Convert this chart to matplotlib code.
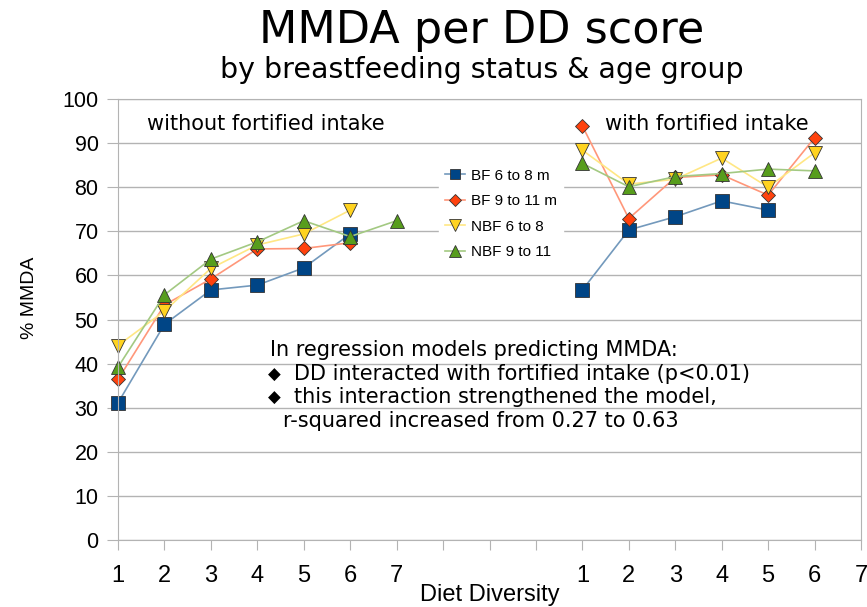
import matplotlib.pyplot as plt
from matplotlib.colors import to_rgb
from matplotlib.lines import Line2D

# ── Data ──────────────────────────────────────────────────────────────────────
DD_WITHOUT = [1, 2, 3, 4, 5, 6, 7]
DD_WITH = [1, 2, 3, 4, 5, 6, 7]
GAP = 3                                     # empty category slots between panels

BF_6_8_WITHOUT   = [31.1, 48.9, 56.7, 57.8, 61.7, 69.4]
BF_9_11_WITHOUT  = [36.4, 53.3, 59.2, 66.0, 66.1, 67.4]
NBF_6_8_WITHOUT  = [44.1, 51.9, 61.6, 66.9, 69.4, 74.8]
NBF_9_11_WITHOUT = [39.2, 55.6, 63.7, 67.6, 72.4, 68.8, 72.4]

BF_6_8_WITH   = [56.7, 70.3, 73.3, 76.9, 74.8]
BF_9_11_WITH  = [93.9, 72.9, 82.2, 82.8, 78.2, 91.2]
NBF_6_8_WITH  = [88.4, 80.7, 81.8, 86.6, 80.0, 87.8]
NBF_9_11_WITH = [85.4, 80.1, 82.4, 83.1, 84.1, 83.7]

SERIES = [
    ("BF 6 to 8 m",  BF_6_8_WITHOUT,   BF_6_8_WITH,   "s", "#004586", 9.5),
    ("BF 9 to 11 m", BF_9_11_WITHOUT,  BF_9_11_WITH,  "D", "#ff420e", 7.5),
    ("NBF 6 to 8",   NBF_6_8_WITHOUT,  NBF_6_8_WITH,  "v", "#ffd320", 10.5),
    ("NBF 9 to 11",  NBF_9_11_WITHOUT, NBF_9_11_WITH, "^", "#579d1c", 10.5),
]

NOTES = [
    "In regression models predicting MMDA:",
    "DD interacted with fortified intake (p<0.01)",
    "this interaction strengthened the model,",
    "r-squared increased from 0.27 to 0.63",
]

GRID = "#b3b3b3"
NARROW = ["Liberation Sans", "DejaVu Sans"]   # axis/tick text
WIDE = ["DejaVu Sans"]                         # titles and notes


def lighten(c, amount=0.45):
    r, g, b = to_rgb(c)
    return (r + (1 - r) * amount, g + (1 - g) * amount, b + (1 - b) * amount)


# ── Plot ──────────────────────────────────────────────────────────────────────
fig = plt.figure(figsize=(8.67, 6.07), dpi=100)
ax = fig.add_axes([118 / 867, 67 / 607, 743 / 867, 441 / 607])

offset_with = len(DD_WITHOUT) + GAP
handles = []
for label, y_wo, y_w, mk, col, ms in SERIES:
    x_wo = [d - 1 for d in DD_WITHOUT[:len(y_wo)]]
    x_w = [d - 1 + offset_with for d in DD_WITH[:len(y_w)]]
    style = dict(marker=mk, color=lighten(col), markersize=ms,
                 markerfacecolor=col, markeredgecolor="#333333",
                 markeredgewidth=0.6, lw=1.2, clip_on=False)
    ax.plot(x_wo, y_wo, **style)
    ax.plot(x_w, y_w, **style)
    handles.append(Line2D([], [], label=label, **{**style, "markersize": ms * 0.8}))

n_slots = len(DD_WITHOUT) + GAP + len(DD_WITH)
tick_labels = [str(d) for d in DD_WITHOUT] + [""] * GAP + [str(d) for d in DD_WITH]
ax.set_xlim(0, n_slots - 1)
ax.set_xticks(range(n_slots), tick_labels)
ax.set_ylim(0, 100)
ax.set_yticks(range(0, 101, 10))
ax.tick_params(axis="x", length=7, color=GRID, labelsize=17, pad=11)
ax.tick_params(axis="y", length=8, color=GRID, labelsize=15.5, pad=6)
for t in ax.get_xticklabels() + ax.get_yticklabels():
    t.set_family(NARROW)
ax.grid(axis="y", color=GRID, lw=1)
ax.set_axisbelow(True)
for s in ax.spines.values():
    s.set_color(GRID)

ax.set_xlabel("Diet Diversity", fontsize=17, family=NARROW, labelpad=-2)
fig.text(30 / 867, 1 - 298 / 607, "% MMDA", rotation=90, fontsize=14,
         family=NARROW, ha="center", va="center")

fig.text(482 / 867, 1 - 43 / 607, "MMDA per DD score", fontsize=32, family=WIDE,
         ha="center", va="baseline")
fig.text(482 / 867, 1 - 78 / 607, "by breastfeeding status & age group",
         fontsize=20.5, family=WIDE, ha="center", va="baseline")

ax.text(0.62, 93.0, "without fortified intake", fontsize=15, family=WIDE, va="baseline")
ax.text(10.49, 93.0, "with fortified intake", fontsize=15, family=WIDE, va="baseline")

# bullet block (positions in data units of the category axis)
ax.text(3.27, 41.7, NOTES[0], fontsize=15, family=WIDE, va="baseline")
for txt, yb in zip(NOTES[1:3], (36.3, 31.1)):
    ax.text(3.37, yb + 1.2, "\u25c6", fontsize=12, family=WIDE, ha="center", va="center")
    ax.text(3.78, yb, txt, fontsize=15, family=WIDE, va="baseline")
ax.text(3.55, 25.6, NOTES[3], fontsize=15, family=WIDE, va="baseline")

leg = ax.legend(handles=handles, loc="upper left",
                bbox_to_anchor=(313 / 743, 1 - 56 / 441),
                frameon=True, fancybox=False, edgecolor="white", framealpha=1,
                prop={"family": NARROW, "size": 11}, handlelength=1.3,
                handletextpad=0.4, labelspacing=0.75, borderpad=0.4)

fig.savefig("out.png", dpi=100)
